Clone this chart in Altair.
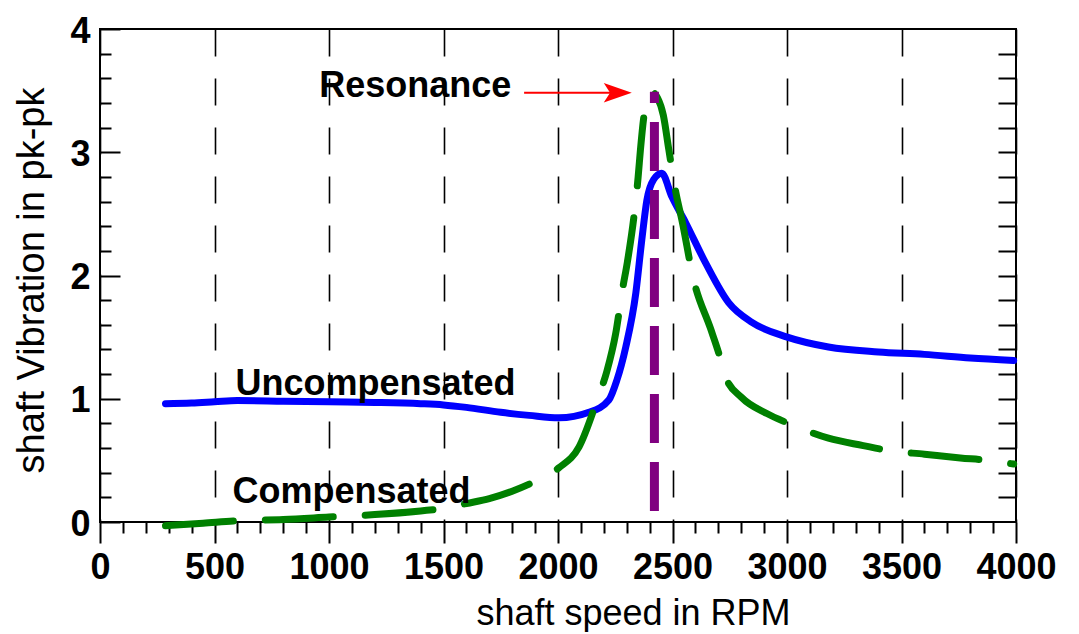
import altair as alt
import pandas as pd

# ---- data ----
unc_rpm = [286, 400, 500, 600, 800, 1000, 1200, 1400, 1500, 1600, 1750, 1874, 2004, 2135, 2222, 2257,
           2296, 2340, 2366, 2388, 2418, 2453, 2497, 2557, 2645, 2745, 2847, 3001, 3181, 3399,
           3600, 3800, 3990]
unc_vib = [0.96, 0.965, 0.975, 0.985, 0.98, 0.975, 0.97, 0.96, 0.95, 0.93, 0.89, 0.865, 0.845, 0.89, 0.99, 1.15,
           1.42, 1.86, 2.29, 2.61, 2.78, 2.83, 2.64, 2.43, 2.10, 1.78, 1.62, 1.50, 1.42, 1.38,
           1.36, 1.33, 1.31]

comp_rpm = [286, 450, 600, 800, 1000, 1200, 1400, 1500, 1600, 1700, 1800, 1900, 2004, 2092, 2171, 2213,
            2252, 2281, 2303, 2333, 2350, 2360, 2375, 2392, 2408, 2435, 2460, 2484, 2513, 2541,
            2593, 2666, 2702, 2731, 2802, 2912, 3020, 3181, 3333, 3443, 3600, 3757,
            3877, 3990]
comp_vib = [-0.03, -0.01, 0.01, 0.02, 0.04, 0.06, 0.09, 0.11, 0.15, 0.19, 0.25, 0.33, 0.44, 0.61, 0.99, 1.22,
            1.53, 1.88, 2.11, 2.50, 2.80, 3.02, 3.29, 3.44, 3.49, 3.44, 3.30, 3.02, 2.69, 2.45,
            1.96, 1.57, 1.37, 1.18, 1.01, 0.88, 0.79, 0.68, 0.62, 0.58, 0.55, 0.52,
            0.50, 0.47]

res_rpm = [2421]
res_low = [0.09]
res_high = [3.49]

label_text = ["Resonance", "Uncompensated", "Compensated"]
label_rpm = [1377, 1203, 1098]
label_vib = [3.54, 1.12, 0.24]

arrow_start = [1852]
arrow_end = [2275]
arrow_vib = [3.483]
head_rpm = [2261]

x_major = [0, 500, 1000, 1500, 2000, 2500, 3000, 3500, 4000]
x_minor = [v for v in range(100, 4000, 100) if v % 500 != 0]
y_major = [0, 1, 2, 3, 4]
y_all = [round(0.2 * i, 1) for i in range(1, 20)]
y_minor = [v for v in y_all if abs(v - round(v)) > 1e-6]

W, H = 916, 493
FONT = "Liberation Sans"

xs = alt.Scale(domain=[0, 4000], nice=False, zero=False)
ys = alt.Scale(domain=[0, 4], nice=False, zero=False)

ax_x_major = alt.Axis(orient="bottom", values=x_major, format="d", tickSize=21, tickWidth=2,
                      tickColor="black", domain=False, labelFont=FONT, labelFontSize=36,
                      labelFontWeight="bold", labelColor="black", labelPadding=7,
                      labelFlush=False, labelOverlap=False,
                      grid=True, gridDash=[27, 22], gridColor="black", gridWidth=1.6, gridOpacity=1,
                      title="shaft speed in RPM", titleFont=FONT, titleFontSize=36,
                      titleFontWeight="normal", titleColor="black", titleX=533, titleY=91,
                      titleAlign="center", titleBaseline="middle")
ax_x_minor = alt.Axis(orient="bottom", values=x_minor, tickSize=11, tickWidth=2, tickColor="black",
                      domain=False, labels=False, grid=False, title=None)
ax_y_main = alt.Axis(orient="left", values=y_major, format="d", ticks=False, tickSize=0, domain=False,
                     labelFont=FONT, labelFontSize=36, labelFontWeight="bold", labelColor="black",
                     labelPadding=10, labelOffset=2, labelOverlap=False, grid=False,
                     title="shaft Vibration in pk-pk", titleFont=FONT, titleFontSize=38,
                     titleFontWeight="normal", titleColor="black", titleX=-68, titleY=251,
                     titleAlign="center", titleBaseline="middle", titleAngle=270)
ax_y_in_major = alt.Axis(orient="right", offset=-W, values=y_major, tickSize=20, tickWidth=2,
                         tickColor="black", domain=False, labels=False, grid=False, title=None)
ax_y_in_minor = alt.Axis(orient="right", offset=-W, values=y_minor, tickSize=11, tickWidth=2,
                         tickColor="black", domain=False, labels=False, grid=False, title=None)
ax_y_right = alt.Axis(orient="left", offset=-W, values=y_all, tickSize=18, tickWidth=2,
                      tickColor="black", domain=False, labels=False, grid=False, title=None)

df_unc = pd.DataFrame({"rpm": unc_rpm, "vib": unc_vib})
df_comp = pd.DataFrame({"rpm": comp_rpm, "vib": comp_vib})
df_res = pd.DataFrame({"rpm": res_rpm, "lo": res_low, "hi": res_high})
df_lab = pd.DataFrame({"rpm": label_rpm, "vib": label_vib, "t": label_text})
df_arrow = pd.DataFrame({"rpm": arrow_start, "rpm2": arrow_end, "vib": arrow_vib, "head": head_rpm})

blue = alt.Chart(df_unc).mark_line(color="#0000ff", strokeWidth=7, strokeCap="round",
                                   strokeJoin="round", interpolate="monotone").encode(
    x=alt.X("rpm:Q", scale=xs, axis=ax_x_major),
    y=alt.Y("vib:Q", scale=ys, axis=ax_y_main),
)

green = alt.Chart(df_comp).mark_line(color="#008000", strokeWidth=7, strokeCap="round",
                                     strokeJoin="round", strokeDash=[68, 32],
                                     interpolate="monotone").encode(
    x=alt.X("rpm:Q", scale=xs, axis=ax_x_minor),
    y=alt.Y("vib:Q", scale=ys, axis=ax_y_in_minor),
)

purple = alt.Chart(df_res).mark_rule(color="#800080", strokeWidth=9, strokeDash=[49, 19]).encode(
    x=alt.X("rpm:Q", scale=xs, axis=None),
    y=alt.Y("lo:Q", scale=ys, axis=ax_y_in_major),
    y2="hi:Q",
)

arrow_line = alt.Chart(df_arrow).mark_rule(color="#ff0000", strokeWidth=2).encode(
    x=alt.X("rpm:Q", scale=xs, axis=None),
    x2="rpm2:Q",
    y=alt.Y("vib:Q", scale=ys, axis=None),
)

arrow_head = alt.Chart(df_arrow).mark_point(
    shape="M-1,-0.7L1,0L-1,0.7L-0.55,0Z", size=784, filled=True, color="#ff0000",
    opacity=1, strokeWidth=0).encode(
    x=alt.X("head:Q", scale=xs, axis=None),
    y=alt.Y("vib:Q", scale=ys, axis=None),
)

labels = alt.Chart(df_lab).mark_text(font=FONT, fontSize=36, fontWeight="bold", color="black",
                                     align="center", baseline="middle").encode(
    x=alt.X("rpm:Q", scale=xs, axis=None),
    y=alt.Y("vib:Q", scale=ys, axis=ax_y_right),
    text="t:N",
)

chart = alt.layer(blue, green, purple, arrow_line, arrow_head, labels).resolve_axis(
    x="independent", y="independent"
).properties(
    width=W, height=H,
    autosize=alt.AutoSizeParams(type="none"),
    padding={"left": 92, "top": 21, "right": 55, "bottom": 110},
    background="white",
).configure_view(stroke="black", strokeWidth=2)

chart.save("out.html", embed_options={"renderer": "svg", "actions": False})
